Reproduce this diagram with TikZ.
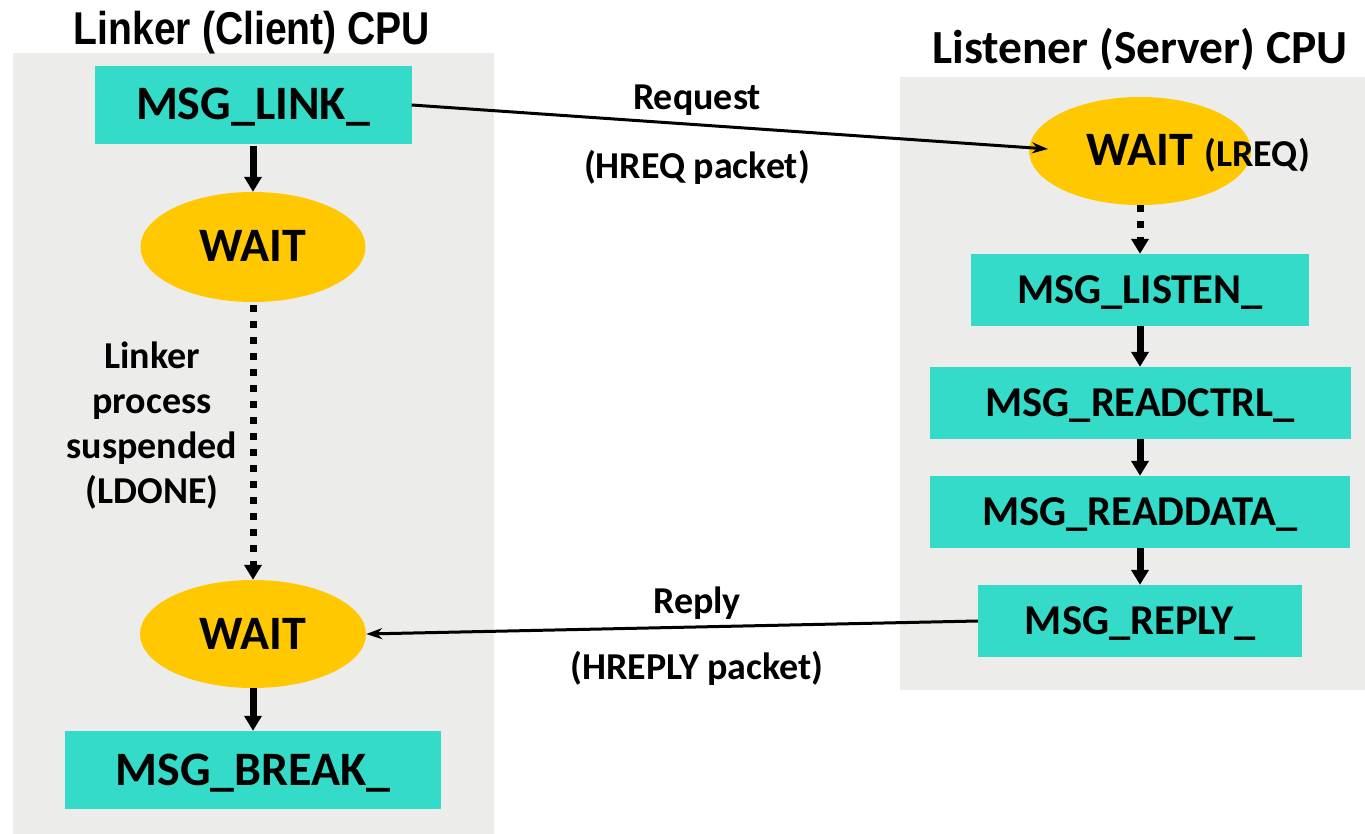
\documentclass[tikz,border=0pt]{standalone}
\usepackage{fontspec}
\setmainfont{Carlito}
\newfontfamily\titlefont{Liberation Sans}
\usetikzlibrary{arrows.meta,shapes.geometric}
\definecolor{teal}{RGB}{51,219,200}
\definecolor{gold}{RGB}{255,200,0}
\definecolor{panel}{RGB}{236,236,234}
\tikzset{
  boxnode/.style={fill=teal, inner sep=0pt, font=\bfseries\fontsize{48}{52}\selectfont, text height=30pt, text depth=0pt},
  rboxnode/.style={fill=teal, inner sep=0pt, font=\bfseries\fontsize{42.5}{48}\selectfont, text height=27pt, text depth=0pt},
  waitnode/.style={ellipse, fill=gold, inner sep=0pt, font=\bfseries\fontsize{48}{52}\selectfont, text height=30pt, text depth=0pt},
  lbl/.style={font=\bfseries\fontsize{38}{45}\selectfont, inner sep=0pt},
  thickarrow/.style={line width=7pt, -{Triangle[width=17pt,length=15pt]}},
  dotarrow/.style={line width=7pt, dash pattern=on 7pt off 9pt, -{Triangle[width=17pt,length=15pt]}},
  msgarrow/.style={line width=3pt, -{Stealth[width=11pt,length=16pt]}}
}
\begin{document}
\begin{tikzpicture}[x=1pt,y=-1pt]
\useasboundingbox (0,0) rectangle (1365,834);
\fill[panel] (13,53) rectangle (494,834);
\fill[panel] (900,77) rectangle (1365,690);
\node[font=\titlefont\bfseries\fontsize{46}{50}\selectfont, anchor=base] (ttl) at (252,45) {\scalebox{0.85}[1]{Linker (Client) CPU}};
\node[font=\bfseries\fontsize{47.5}{52}\selectfont, anchor=base] (ttr) at (1140,64) {Listener (Server) CPU};
% left column
\node[boxnode, minimum width=317pt, minimum height=78pt] (link) at (253,105) {MSG\_LINK\_};
\node[waitnode, minimum width=225pt, minimum height=110pt] (w1) at (253,247) {WAIT};
\node[waitnode, minimum width=226pt, minimum height=108pt] (w2) at (253,634) {WAIT};
\node[boxnode, minimum width=376pt, minimum height=78pt] (brk) at (253,770) {MSG\_BREAK\_};
\node[lbl, align=center] (susp) at (152,426) {Linker\\process\\suspended\\(LDONE)};
% right column
\node[waitnode, minimum width=222pt, minimum height=108pt] (wr) at (1140,151) {WAIT};
\node[lbl, anchor=base west] (lreq) at (1204,167) {(LREQ)};
\node[rboxnode, minimum width=338pt, minimum height=72pt] (listen) at (1140,290) {MSG\_LISTEN\_};
\node[rboxnode, minimum width=421pt, minimum height=72pt] (rctl) at (1140,403) {MSG\_READCTRL\_};
\node[rboxnode, minimum width=420pt, minimum height=72pt] (rdat) at (1140,512) {MSG\_READDATA\_};
\node[rboxnode, minimum width=324pt, minimum height=72pt] (reply) at (1140,621) {MSG\_REPLY\_};
% arrows
\draw[thickarrow] (link.south) ++(0,2) -- (w1.north);
\draw[dotarrow] (w1.south) ++(0,3) -- (w2.north);
\draw[thickarrow] (w2.south) -- (brk.north);
\draw[dotarrow] (wr.south) -- (listen.north);
\draw[thickarrow] (listen.south) -- (rctl.north);
\draw[thickarrow] (rctl.south) -- (rdat.north);
\draw[thickarrow] (rdat.south) -- (reply.north);
\coordinate (reqend) at (1048,149);
\draw[msgarrow] (link.east) -- (reqend);
\draw[msgarrow] (reply.west) -- (w2.east);
% message labels
\node[lbl] (req) at (697,100) {Request};
\node[lbl] (hreq) at (697,167) {(HREQ packet)};
\node[lbl] (rep) at (697,603) {Reply};
\node[lbl] (hrep) at (697,668) {(HREPLY packet)};
\end{tikzpicture}
\end{document}
